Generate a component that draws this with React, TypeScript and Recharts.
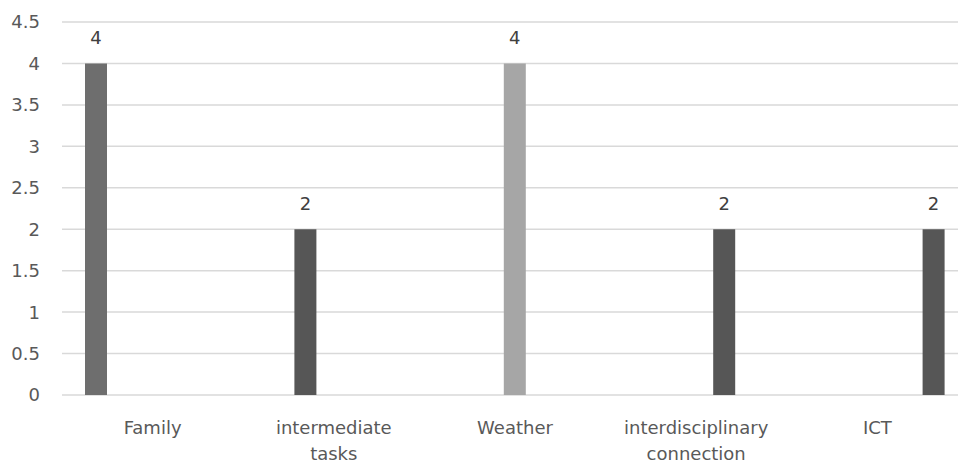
import React from 'react';
import { BarChart, Bar, XAxis, YAxis, CartesianGrid, LabelList } from 'recharts';

const CATEGORIES = ['Family', 'intermediate tasks', 'Weather', 'interdisciplinary connection', 'ICT'];
// one series per topic; each topic only has a value in its own category
const TOPIC_VALUES = [4, 2, 4, 2, 2];
const TOPIC_COLORS = ['#6e6e6e', '#565656', '#a6a6a6', '#565656', '#565656'];
const Y_TICKS = [0, 0.5, 1, 1.5, 2, 2.5, 3, 3.5, 4, 4.5];

const FONT = '"DejaVu Sans", sans-serif';
const TEXT_COLOR = '#595959';

const rows = CATEGORIES.map((name, i) => {
  const row: Record<string, string | number | null> = { name };
  TOPIC_VALUES.forEach((v, j) => {
    row[`t${j}`] = i === j ? v : null;
  });
  return row;
});

function CategoryTick({ x, y, payload }: any) {
  const lines = String(payload.value).split(' ');
  return (
    <text x={x} y={y} textAnchor="middle" fill={TEXT_COLOR} fontSize={18} fontFamily={FONT}>
      {lines.map((line, i) => (
        <tspan key={i} x={x} dy={i === 0 ? 39 : 26}>
          {line}
        </tspan>
      ))}
    </text>
  );
}

export default function App() {
  return (
    <div
      style={{
        position: 'fixed',
        left: 0,
        top: 0,
        width: 958,
        height: 463,
        overflow: 'hidden',
        background: '#fff',
      }}
    >
      <BarChart
        width={970}
        height={463}
        data={rows}
        margin={{ top: 22, right: 2, bottom: 0, left: 0 }}
        barSize={22}
        barGap={6.2}
      >
        <CartesianGrid horizontal vertical={false} stroke="#d9d9d9" strokeWidth={1.5} />
        <XAxis
          dataKey="name"
          height={68}
          axisLine={false}
          tickLine={false}
          tickSize={0}
          tickMargin={0}
          interval={0}
          tick={<CategoryTick />}
        />
        <YAxis
          width={62}
          domain={[0, 4.5]}
          ticks={Y_TICKS}
          axisLine={false}
          tickLine={false}
          tickSize={0}
          tickMargin={22}
          tick={{ fill: TEXT_COLOR, fontSize: 18, fontFamily: FONT }}
        />
        {TOPIC_VALUES.map((_, j) => (
          <Bar key={j} dataKey={`t${j}`} fill={TOPIC_COLORS[j]} isAnimationActive={false}>
            <LabelList
              dataKey={`t${j}`}
              position="top"
              offset={19}
              fill="#404040"
              fontSize={18}
              fontFamily={FONT}
            />
          </Bar>
        ))}
      </BarChart>
    </div>
  );
}
